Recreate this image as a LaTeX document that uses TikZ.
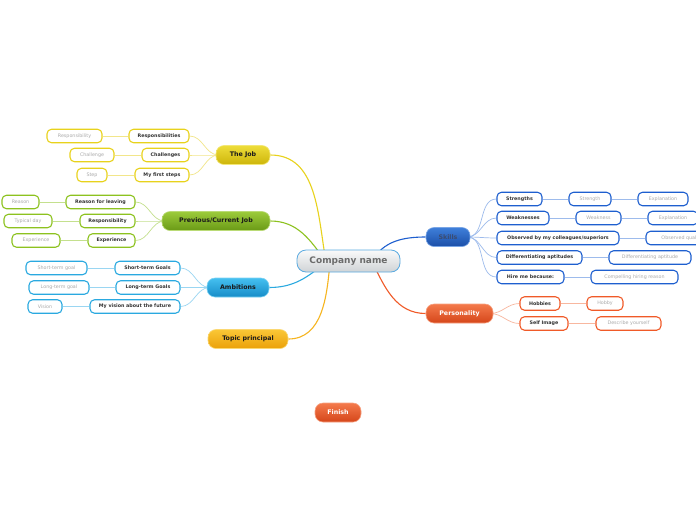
\documentclass[tikz,border=0pt]{standalone}
\usepackage{fontspec}
\setmainfont{DejaVu Sans}
\usetikzlibrary{backgrounds}
\definecolor{jobA}{HTML}{EEDD3A}\definecolor{jobB}{HTML}{CDB50A}\definecolor{jobS}{HTML}{E8D21C}\definecolor{jobL}{HTML}{F2E68A}
\definecolor{preA}{HTML}{9CCB3B}\definecolor{preB}{HTML}{6A9A16}\definecolor{preS}{HTML}{8DC21F}\definecolor{preL}{HTML}{C4E08E}
\definecolor{ambA}{HTML}{45C0F0}\definecolor{ambB}{HTML}{168CC8}\definecolor{ambS}{HTML}{2AA9E0}\definecolor{ambL}{HTML}{9AD6F2}
\definecolor{topA}{HTML}{FAC736}\definecolor{topB}{HTML}{EBA10A}\definecolor{topS}{HTML}{F6B520}
\definecolor{skiA}{HTML}{3F7FDA}\definecolor{skiB}{HTML}{1B4FA8}\definecolor{skiS}{HTML}{1E5FCF}\definecolor{skiL}{HTML}{9DBBEC}\definecolor{skiT}{HTML}{3C4C70}
\definecolor{perA}{HTML}{F47A4C}\definecolor{perB}{HTML}{D5461A}\definecolor{perS}{HTML}{F05A28}\definecolor{perL}{HTML}{F8B79F}
\definecolor{cenA}{HTML}{FAFAFA}\definecolor{cenB}{HTML}{CFD3D6}\definecolor{cenS}{HTML}{5AAAE0}
\definecolor{subtxt}{HTML}{333333}\definecolor{leaftxt}{HTML}{AAAAAA}\definecolor{toptxt}{HTML}{1A1A1A}
\tikzset{
  topic/.style n args={3}{rounded corners=8pt, minimum height=19pt, inner sep=0pt,
     top color=#1, bottom color=#2, draw=#1!70!white, line width=0.6pt,
     font=\fontsize{6.3}{7}\selectfont\bfseries, text=#3},
  sub/.style={rounded corners=4.5pt, minimum height=13.5pt, inner sep=0pt, draw=#1,
     line width=1.1pt, fill=white, font=\fontsize{4.8}{6}\selectfont\bfseries, text=subtxt},
  leaf/.style={rounded corners=4.5pt, minimum height=13.5pt, inner sep=0pt, draw=#1,
     line width=1.1pt, fill=white, font=\fontsize{4.8}{6}\selectfont, text=leaftxt},
  br/.style={draw=#1, line width=1.1pt},
  sbr/.style={draw=#1, line width=0.7pt}
}
\begin{document}
\begin{tikzpicture}[x=1pt,y=1pt]
\clip (0,0) rectangle (696,-520);
% central
\node[rounded corners=9pt, minimum width=103pt, minimum height=22pt, inner sep=0pt,
  top color=cenA, bottom color=cenB, draw=cenS, line width=0.8pt,
  font=\fontsize{9}{10}\selectfont\bfseries, text=black!58] (c) at (348.5,-261) {Company name};
% main topics
\node[topic={jobA}{jobB}{toptxt}, minimum width=54pt] (job) at (243,-155) {The Job};
\node[topic={preA}{preB}{toptxt}, minimum width=108pt] (pre) at (216,-221) {Previous/Current Job};
\node[topic={ambA}{ambB}{toptxt}, minimum width=62pt] (amb) at (238,-287.5) {Ambitions};
\node[topic={topA}{topB}{toptxt}, minimum width=80pt] (top) at (248,-339) {Topic principal};
\node[topic={skiA}{skiB}{skiT}, minimum width=44pt] (ski) at (448,-237) {Skills};
\node[topic={perA}{perB}{white}, minimum width=67pt] (per) at (459.5,-313.5) {Personality};
\node[topic={perA}{perB}{white}, minimum width=46pt] (fin) at (338,-412.5) {Finish};
% The Job
\node[sub=jobS, minimum width=60pt] (j1) at (159,-136) {Responsibilities};
\node[sub=jobS, minimum width=47pt] (j2) at (165.5,-155) {Challenges};
\node[sub=jobS, minimum width=54pt] (j3) at (162,-175) {My first steps};
\node[leaf=jobS, minimum width=55pt] (j1a) at (74.5,-136) {Responsibility};
\node[leaf=jobS, minimum width=44pt] (j2a) at (92,-155) {Challenge};
\node[leaf=jobS, minimum width=30pt] (j3a) at (92,-175) {Step};
% Previous
\node[sub=preS, minimum width=69pt] (p1) at (100.5,-202) {Reason for leaving};
\node[sub=preS, minimum width=55pt] (p2) at (107.5,-221) {Responsibility};
\node[sub=preS, minimum width=47pt] (p3) at (111.5,-240.5) {Experience};
\node[leaf=preS, minimum width=37pt] (p1a) at (20.5,-202) {Reason};
\node[leaf=preS, minimum width=48pt] (p2a) at (28,-221) {Typical day};
\node[leaf=preS, minimum width=48pt] (p3a) at (36,-240.5) {Experience};
% Ambitions
\node[sub=ambS, minimum width=65pt] (a1) at (147.5,-268) {Short-term Goals};
\node[sub=ambS, minimum width=64pt] (a2) at (148,-287.5) {Long-term Goals};
\node[sub=ambS, minimum width=90pt] (a3) at (135,-306.5) {My vision about the future};
\node[leaf=ambS, minimum width=61pt] (a1a) at (56.5,-268) {Short-term goal};
\node[leaf=ambS, minimum width=60pt] (a2a) at (59,-287.5) {Long-term goal};
\node[leaf=ambS, minimum width=34pt] (a3a) at (45,-306.5) {Vision};
% Skills
\node[sub=skiS, minimum width=45pt] (s1) at (519.5,-199) {Strengths};
\node[sub=skiS, minimum width=52pt] (s2) at (523,-218) {Weaknesses};
\node[sub=skiS, minimum width=122pt] (s3) at (558,-238) {Observed by my colleagues/superiors};
\node[sub=skiS, minimum width=85pt] (s4) at (539.5,-257.5) {Differentiating aptitudes};
\node[sub=skiS, minimum width=67pt] (s5) at (530.5,-277) {Hire me because:};
\node[leaf=skiS, minimum width=42pt] (s1a) at (590,-199) {Strength};
\node[leaf=skiS, minimum width=45pt] (s2a) at (598.5,-218) {Weakness};
\node[leaf=skiS, minimum width=72pt] (s3a) at (682,-238) {Observed quality};
\node[leaf=skiS, minimum width=82pt] (s4a) at (650,-257.5) {Differentiating aptitude};
\node[leaf=skiS, minimum width=87pt] (s5a) at (634.5,-277) {Compelling hiring reason};
\node[leaf=skiS, minimum width=50pt] (s1b) at (663,-199) {Explanation};
\node[leaf=skiS, minimum width=50pt] (s2b) at (673,-218) {Explanation};
% Personality
\node[sub=perS, minimum width=40pt] (q1) at (540,-303.5) {Hobbies};
\node[sub=perS, minimum width=48pt] (q2) at (544,-323.5) {Self Image};
\node[leaf=perS, minimum width=36pt] (q1a) at (605,-303.5) {Hobby};
\node[leaf=perS, minimum width=65pt] (q2a) at (628.5,-323.5) {Describe yourself};
\begin{scope}[on background layer]
\fill[white] (0,0) rectangle (696,-520);
% main branches
\draw[br=jobS] (job.east) to[out=0,in=100] (326,-262);
\draw[br=preS] (pre.east) to[out=0,in=125] (326,-262);
\draw[br=ambS] (amb.east) to[out=0,in=-140] (326,-262);
\draw[br=topS] (top.east) to[out=0,in=-95] (330,-262);
\draw[br=skiS] (372,-261) to[out=60,in=180] (ski.west);
\draw[br=perS] (372,-261) to[out=-65,in=180] (per.west);
% sub branches
\foreach \n in {j1,j2,j3} \draw[sbr=jobL] ([xshift=3pt]job.west) to[out=180,in=0] (\n.east);
\foreach \n in {p1,p2,p3} \draw[sbr=preL] ([xshift=3pt]pre.west) to[out=180,in=0] (\n.east);
\foreach \n in {a1,a2,a3} \draw[sbr=ambL] ([xshift=3pt]amb.west) to[out=180,in=0] (\n.east);
\foreach \n in {s1,s2,s3,s4,s5} \draw[sbr=skiL] ([xshift=-3pt]ski.east) to[out=0,in=180] (\n.west);
\foreach \n in {q1,q2} \draw[sbr=perL] ([xshift=-3pt]per.east) to[out=0,in=180] (\n.west);
% leaves
\draw[sbr=jobL] (j1) -- (j1a); \draw[sbr=jobL] (j2) -- (j2a); \draw[sbr=jobL] (j3) -- (j3a);
\draw[sbr=preL] (p1) -- (p1a); \draw[sbr=preL] (p2) -- (p2a); \draw[sbr=preL] (p3) -- (p3a);
\draw[sbr=ambL] (a1) -- (a1a); \draw[sbr=ambL] (a2) -- (a2a); \draw[sbr=ambL] (a3) -- (a3a);
\draw[sbr=skiL] (s1) -- (s1a); \draw[sbr=skiL] (s2) -- (s2a); \draw[sbr=skiL] (s3) -- (s3a);
\draw[sbr=skiL] (s4) -- (s4a); \draw[sbr=skiL] (s5) -- (s5a);
\draw[sbr=skiL] (s1a) -- (s1b); \draw[sbr=skiL] (s2a) -- (s2b);
\draw[sbr=perL] (q1) -- (q1a); \draw[sbr=perL] (q2) -- (q2a);
\end{scope}
\end{tikzpicture}
\end{document}
